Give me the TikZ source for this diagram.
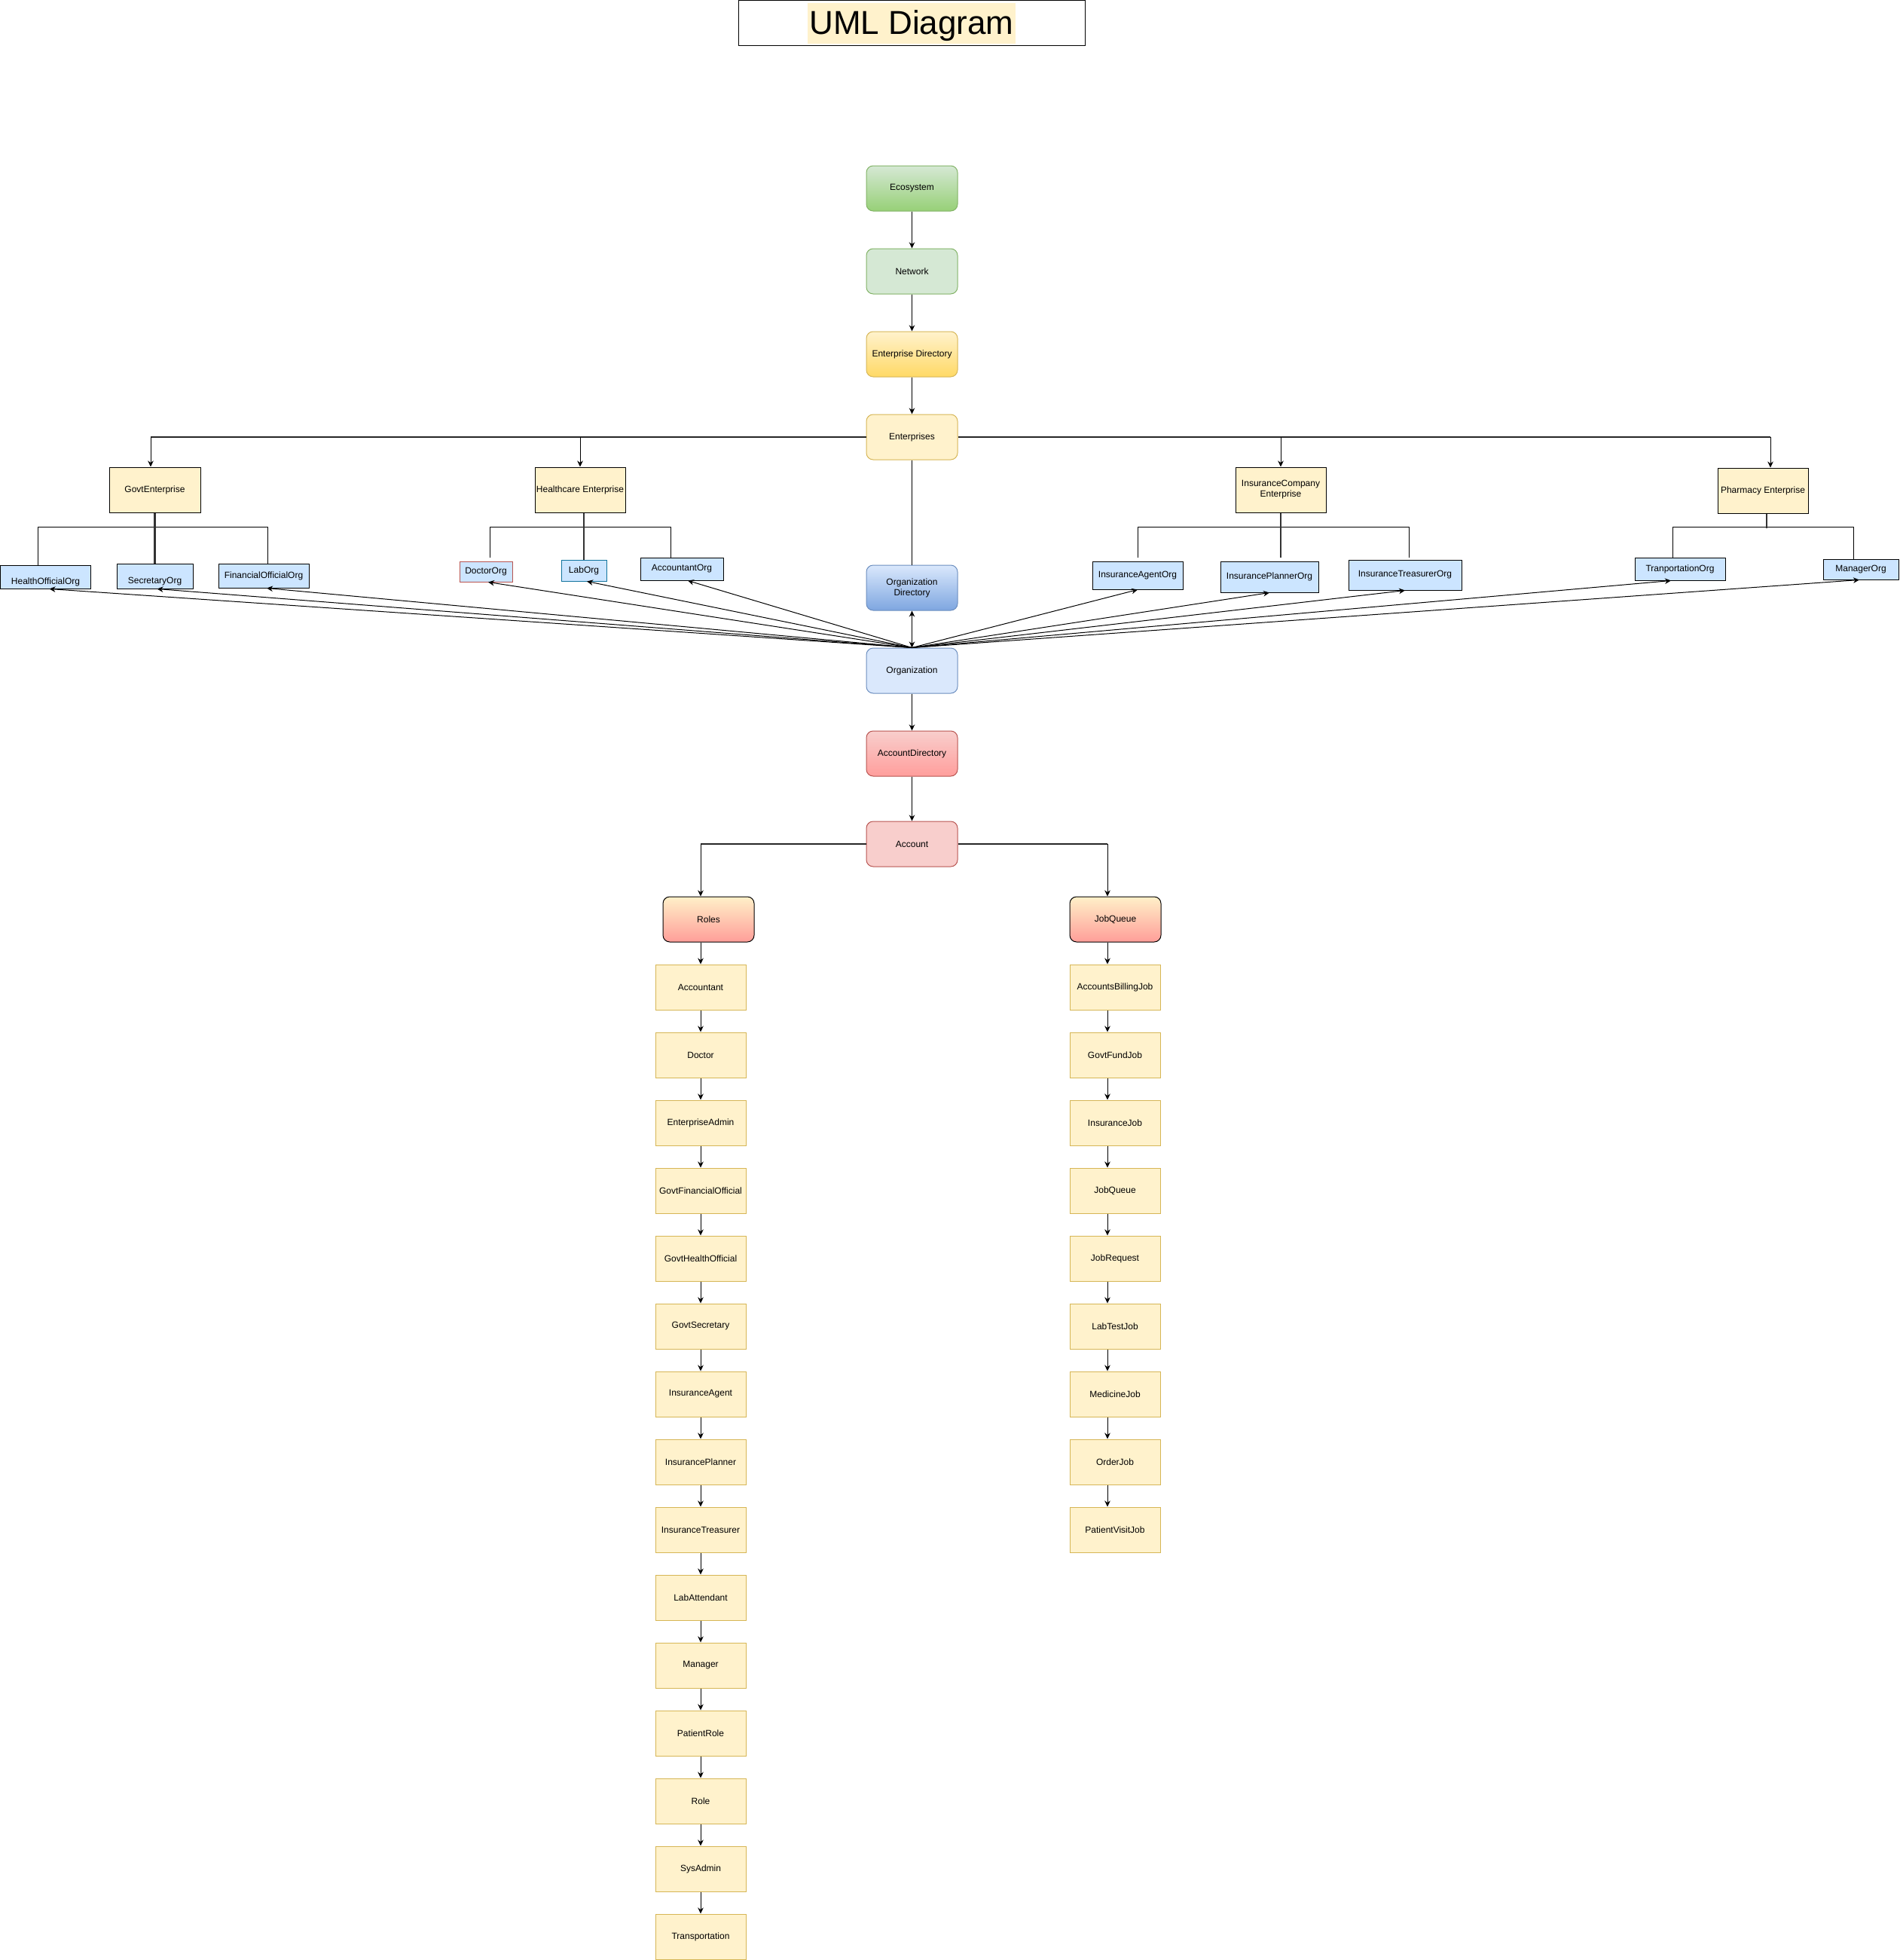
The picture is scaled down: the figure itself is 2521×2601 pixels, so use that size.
\documentclass[tikz,border=0pt]{standalone}
\usepackage{fontspec}
\setmainfont{Liberation Sans}
\usetikzlibrary{arrows.meta,calc}

\definecolor{greenfill}{HTML}{D5E8D4}
\definecolor{greendark}{HTML}{97D077}
\definecolor{greenline}{HTML}{82B366}
\definecolor{yellowfill}{HTML}{FFF2CC}
\definecolor{yellowdark}{HTML}{FFD966}
\definecolor{yellowline}{HTML}{D6B656}
\definecolor{bluefill}{HTML}{DAE8FC}
\definecolor{bluedark}{HTML}{7EA6E0}
\definecolor{blueline}{HTML}{6C8EBF}
\definecolor{redfill}{HTML}{F8CECC}
\definecolor{reddark}{HTML}{FF9E9C}
\definecolor{redline}{HTML}{B85450}
\definecolor{salmon}{HTML}{FF9E99}
\definecolor{peach}{HTML}{FFF0C8}
\definecolor{orgfill}{HTML}{CCE5FF}
\definecolor{tealline}{HTML}{10739E}

\tikzset{
  txt/.style={font=\fontsize{12}{14}\selectfont, text=black, align=center, inner sep=1pt, line width=1pt},
  mainbox/.style={txt, rounded corners=9pt, minimum width=121pt, minimum height=60pt},
  entbox/.style={txt, draw=black, fill=yellowfill, minimum height=60pt},
  orgbox/.style={txt, draw=black, fill=orgfill},
  lowtext/.style={text height=20pt, text depth=0pt, inner ysep=0pt},
  colbox/.style={txt, draw=yellowline, fill=yellowfill, minimum width=120pt, minimum height=60pt},
  listhead/.style={mainbox, draw=black, top color=peach, bottom color=salmon},
  link/.style={-{Stealth[length=8pt,width=7.5pt,inset=2.5pt]}, line width=1pt, black},
  plainline/.style={line width=1pt, black},
  busline/.style={line width=2pt, black!85},
  stemline/.style={line width=2.2pt, black!80},
}

\begin{document}
\begin{tikzpicture}[x=1pt,y=-1pt]
\path[fill=white, use as bounding box] (0,0) rectangle (2521,2601);

% heading
\node (titlebox) [draw=black, line width=1pt, minimum width=460pt, minimum height=59.5pt, inner sep=0pt] at (1210,30.5) {};
\node (titletext) [fill=yellowfill, anchor=base, inner xsep=2.5pt, inner ysep=0pt, text height=42pt, text depth=12pt,
  font=\fontsize{44}{50}\selectfont] at (1210,46) {UML Diagram};

% main spine
\node (eco)   [mainbox, draw=greenline, top color=greenfill, bottom color=greendark] at (1210.5,250) {Ecosystem};
\node (net)   [mainbox, draw=greenline, fill=greenfill] at (1210.5,360) {Network};
\node (entdir)[mainbox, draw=yellowline, top color=yellowfill, bottom color=yellowdark] at (1210.5,470) {Enterprise Directory};
\node (ent)   [mainbox, draw=yellowline, fill=yellowfill] at (1210.5,580) {Enterprises};
\node (orgdir)[mainbox, draw=blueline, top color=bluefill, bottom color=bluedark] at (1210.5,780) {Organization\\Directory};
\node (org)   [mainbox, draw=blueline, fill=bluefill] at (1210.5,890) {Organization};
\node (accdir)[mainbox, draw=redline, top color=redfill, bottom color=reddark] at (1210.5,1000) {AccountDirectory};
\node (acc)   [mainbox, draw=redline, fill=redfill] at (1210.5,1120) {Account};

\draw[link] (eco.south) -- (net.north);
\draw[link] (net.south) -- (entdir.north);
\draw[link] (entdir.south) -- (ent.north);
\draw[plainline] (ent.south) -- (orgdir.north);
\draw[{Stealth[length=8pt,width=7.5pt,inset=2.5pt]}-{Stealth[length=8pt,width=7.5pt,inset=2.5pt]}, line width=1.6pt]
  (orgdir.south) -- (org.north);
\draw[link] (org.south) -- (accdir.north);
\draw[link] (accdir.south) -- (acc.north);

% enterprises
\node (govt) [entbox, minimum width=121pt] at (205.5,650) {GovtEnterprise};
\node (hc)   [entbox, minimum width=120pt] at (770,650) {Healthcare Enterprise};
\node (ins)  [entbox, minimum width=120pt] at (1700,650) {InsuranceCompany\\Enterprise};
\node (ph)   [entbox, minimum width=120pt] at (2340,651) {Pharmacy Enterprise};

\coordinate (busL) at (200,580);
\coordinate (busR) at (2350,580);
\draw[busline] (busL) -- (ent.west);
\draw[busline] (ent.east) -- (busR);
\draw[link] (busL) -- (busL |- govt.north);
\draw[link] (hc.north |- busL) -- (hc.north);
\draw[link] (ins.north |- busL) -- (ins.north);
\draw[link] (busR) -- (busR |- ph.north);

% organisations
\node (hoo)  [orgbox, lowtext, minimum width=120pt, minimum height=31pt] at (60.5,765.5) {HealthOfficialOrg};
\node (sec)  [orgbox, lowtext, minimum width=101pt, minimum height=33pt] at (205.5,764.5) {SecretaryOrg};
\node (fin)  [orgbox, minimum width=120pt, minimum height=32pt] at (350,764) {FinancialOfficialOrg};
\node (doc)  [orgbox, draw=redline, minimum width=70pt, minimum height=27pt] at (645,758.5) {DoctorOrg};
\node (lab)  [orgbox, draw=tealline, minimum width=60pt, minimum height=28pt] at (775,757) {LabOrg};
\node (acco) [orgbox, minimum width=110pt, minimum height=30pt] at (905,755) {AccountantOrg};
\node (agt)  [orgbox, minimum width=120pt, minimum height=37pt] at (1510,763.5) {InsuranceAgentOrg};
\node (pln)  [orgbox, minimum width=130pt, minimum height=41pt] at (1685,765.5) {InsurancePlannerOrg};
\node (trs)  [orgbox, minimum width=150pt, minimum height=40pt] at (1865,763) {InsuranceTreasurerOrg};
\node (trn)  [orgbox, minimum width=120pt, minimum height=30pt] at (2230,755) {TranportationOrg};
\node (mgr)  [orgbox, minimum width=100pt, minimum height=27pt] at (2470,755.5) {ManagerOrg};

% enterprise-to-organisation trees
\draw[plainline] ($(hoo.north)+(-10,0)$) |- ($(fin.north)+(5,-48)$) -- ($(fin.north)+(5,0)$);
\draw[stemline] (govt.south) -- (sec.north);
\draw[plainline] ($(doc.north)+(5,-5)$) |- ($(acco.north)+(-15,-40)$) -- ($(acco.north)+(-15,0)$);
\draw[stemline] (lab.north |- hc.south) -- (lab.north);
\draw[plainline] ($(agt.north)+(0,-5)$) |- ($(trs.north)+(5,-43)$) -- ($(trs.north)+(5,-3)$);
\draw[stemline] (ins.south) -- ($(ins.south |- pln.north)+(0,-5)$);
\draw[plainline] ($(trn.north)+(-10,0)$) |- ($(mgr.north)+(-10,-42)$) -- ($(mgr.north)+(-10,0)$);
\draw[stemline] (ph.south) ++(5,0) -- ++(0,19);

% organisation fan
\draw[link] (org.north) -- ($(hoo.south)+(5,0)$);
\draw[link] (org.north) -- ($(sec.south)+(3,0)$);
\draw[link] (org.north) -- ($(fin.south)+(4,0)$);
\draw[link] (org.north) -- ($(doc.south)+(3,0)$);
\draw[link] (org.north) -- ($(lab.south)+(4,0)$);
\draw[link] (org.north) -- ($(acco.south)+(8,0)$);
\draw[link] (org.north) -- (agt.south);
\draw[link] (org.north) -- (pln.south);
\draw[link] (org.north) -- (trs.south);
\draw[link] (org.north) -- ($(trn.south)+(-12,0)$);
\draw[link] (org.north) -- ($(mgr.south)+(-2,0)$);

% roles and job queue
\node (roles) [listhead] at (940.5,1220) {Roles};
\node (jobq)  [listhead] at (1480.5,1220) {JobQueue};
\coordinate (accL) at (930,1120);
\coordinate (accR) at (1470,1120);
\draw[busline] (acc.west) -- (accL);
\draw[busline] (acc.east) -- (accR);
\draw[link] (accL) -- (accL |- roles.north);
\draw[link] (accR) -- (accR |- jobq.north);

\foreach \t [count=\i from 0] in {Accountant, Doctor, EnterpriseAdmin, GovtFinancialOfficial, GovtHealthOfficial,
  GovtSecretary, InsuranceAgent, InsurancePlanner, InsuranceTreasurer, LabAttendant, Manager, PatientRole,
  Role, SysAdmin, Transportation}
  \node (l\i) [colbox] at (930,{1310+90*\i}) {\t};

\foreach \t [count=\i from 0] in {AccountsBillingJob, GovtFundJob, InsuranceJob, JobQueue, JobRequest,
  LabTestJob, MedicineJob, OrderJob, PatientVisitJob}
  \node (r\i) [colbox] at (1480,{1310+90*\i}) {\t};

\draw[link] (l0.north |- roles.south) -- (l0.north);
\foreach \i in {0,...,13} {
  \pgfmathtruncatemacro{\nxt}{\i+1}
  \draw[link] (l\i.south) -- (l\nxt.north);
}
\draw[link] ($(r0.north |- jobq.south)+(-10,0)$) -- ($(r0.north)+(-10,0)$);
\foreach \i in {0,...,7} {
  \pgfmathtruncatemacro{\nxt}{\i+1}
  \draw[link] ($(r\i.south)+(-10,0)$) -- ($(r\nxt.north)+(-10,0)$);
}
\end{tikzpicture}
\end{document}
